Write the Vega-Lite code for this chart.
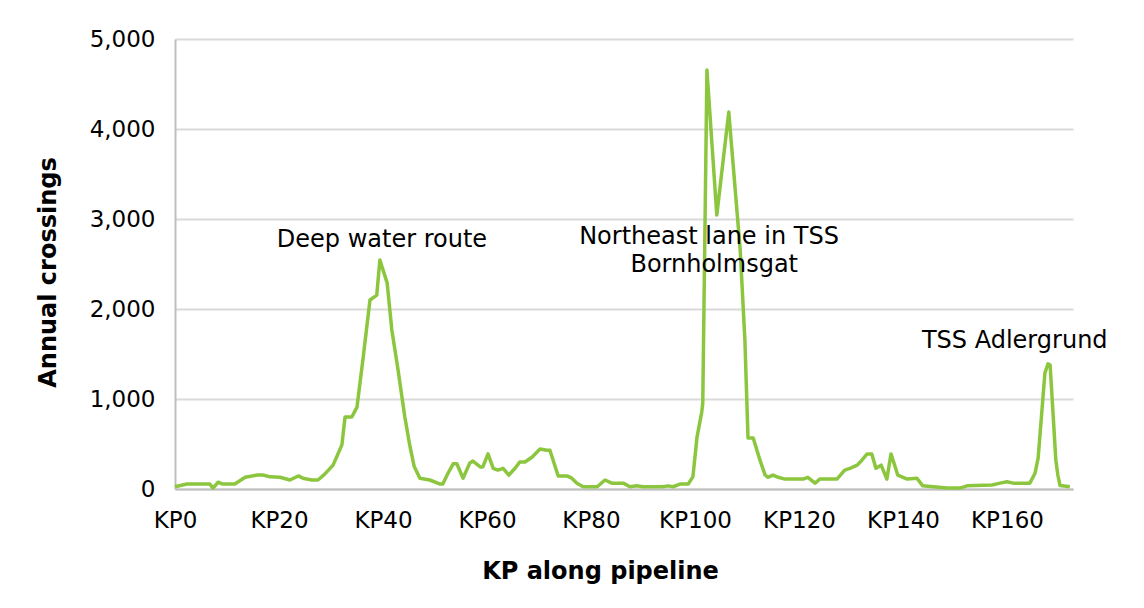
{
  "$schema": "https://vega.github.io/schema/vega-lite/v6.json",
  "autosize": "none",
  "width": 898,
  "height": 450,
  "padding": {"left": 175, "top": 39, "right": 71, "bottom": 119},
  "background": "white",
  "config": {
    "view": {"stroke": null},
    "font": "DejaVu Sans"
  },
  "layer": [
    {
      "data": {"values": [
        {"kp": 0, "crossings": 25}, {"kp": 2.3, "crossings": 55}, {"kp": 6.7, "crossings": 55},
        {"kp": 7.3, "crossings": 10}, {"kp": 8.3, "crossings": 75}, {"kp": 9.2, "crossings": 55},
        {"kp": 11.5, "crossings": 55}, {"kp": 13.5, "crossings": 130}, {"kp": 15.8, "crossings": 155},
        {"kp": 16.9, "crossings": 155}, {"kp": 18.3, "crossings": 135}, {"kp": 20.2, "crossings": 130},
        {"kp": 22.1, "crossings": 100}, {"kp": 23.7, "crossings": 145}, {"kp": 24.6, "crossings": 120},
        {"kp": 26.3, "crossings": 100}, {"kp": 27.5, "crossings": 100}, {"kp": 28.8, "crossings": 165},
        {"kp": 30.4, "crossings": 265}, {"kp": 32.1, "crossings": 490}, {"kp": 32.7, "crossings": 800},
        {"kp": 34.0, "crossings": 800}, {"kp": 35.0, "crossings": 910}, {"kp": 36.2, "crossings": 1467},
        {"kp": 37.5, "crossings": 2100}, {"kp": 38.8, "crossings": 2155}, {"kp": 39.4, "crossings": 2544},
        {"kp": 40.8, "crossings": 2290}, {"kp": 41.7, "crossings": 1767}, {"kp": 42.9, "crossings": 1322},
        {"kp": 44.2, "crossings": 800}, {"kp": 45.2, "crossings": 470}, {"kp": 46.0, "crossings": 250},
        {"kp": 47.1, "crossings": 120}, {"kp": 49.0, "crossings": 100}, {"kp": 51.0, "crossings": 55},
        {"kp": 51.5, "crossings": 55}, {"kp": 52.5, "crossings": 175}, {"kp": 53.5, "crossings": 280},
        {"kp": 54.2, "crossings": 280}, {"kp": 55.4, "crossings": 120}, {"kp": 56.7, "crossings": 290},
        {"kp": 57.3, "crossings": 310}, {"kp": 58.7, "crossings": 245}, {"kp": 59.2, "crossings": 245},
        {"kp": 60.2, "crossings": 390}, {"kp": 61.2, "crossings": 230}, {"kp": 62.1, "crossings": 210},
        {"kp": 63.1, "crossings": 230}, {"kp": 64.2, "crossings": 155}, {"kp": 65.4, "crossings": 230},
        {"kp": 66.3, "crossings": 300}, {"kp": 67.3, "crossings": 300}, {"kp": 68.7, "crossings": 355},
        {"kp": 70.2, "crossings": 445}, {"kp": 71.5, "crossings": 430}, {"kp": 72.1, "crossings": 430},
        {"kp": 73.7, "crossings": 145}, {"kp": 75.4, "crossings": 145}, {"kp": 76.3, "crossings": 120},
        {"kp": 77.3, "crossings": 65}, {"kp": 78.5, "crossings": 25}, {"kp": 81.2, "crossings": 25},
        {"kp": 82.7, "crossings": 100}, {"kp": 84.0, "crossings": 65}, {"kp": 86.2, "crossings": 65},
        {"kp": 87.5, "crossings": 25}, {"kp": 88.8, "crossings": 35}, {"kp": 90.0, "crossings": 25},
        {"kp": 93.8, "crossings": 25}, {"kp": 94.8, "crossings": 35}, {"kp": 95.8, "crossings": 25},
        {"kp": 97.1, "crossings": 55}, {"kp": 98.7, "crossings": 55}, {"kp": 99.6, "crossings": 135},
        {"kp": 100.4, "crossings": 580}, {"kp": 101.3, "crossings": 855}, {"kp": 101.5, "crossings": 955},
        {"kp": 102.3, "crossings": 4655}, {"kp": 104.2, "crossings": 3044}, {"kp": 106.5, "crossings": 4189},
        {"kp": 108.7, "crossings": 2655}, {"kp": 109.6, "crossings": 1655}, {"kp": 110.2, "crossings": 566},
        {"kp": 111.2, "crossings": 566}, {"kp": 112.5, "crossings": 320}, {"kp": 113.5, "crossings": 155},
        {"kp": 114.0, "crossings": 130}, {"kp": 115.0, "crossings": 155}, {"kp": 116.0, "crossings": 130},
        {"kp": 117.3, "crossings": 110}, {"kp": 120.8, "crossings": 110}, {"kp": 121.7, "crossings": 130},
        {"kp": 123.1, "crossings": 65}, {"kp": 124.0, "crossings": 110}, {"kp": 127.3, "crossings": 110},
        {"kp": 128.8, "crossings": 210}, {"kp": 129.8, "crossings": 230}, {"kp": 131.2, "crossings": 265},
        {"kp": 132.1, "crossings": 320}, {"kp": 133.1, "crossings": 390}, {"kp": 134.0, "crossings": 390},
        {"kp": 134.8, "crossings": 230}, {"kp": 135.8, "crossings": 265}, {"kp": 136.9, "crossings": 110},
        {"kp": 137.7, "crossings": 390}, {"kp": 139.0, "crossings": 155}, {"kp": 140.8, "crossings": 110},
        {"kp": 142.7, "crossings": 120}, {"kp": 143.8, "crossings": 35}, {"kp": 145.8, "crossings": 25},
        {"kp": 148.5, "crossings": 10}, {"kp": 151.0, "crossings": 10}, {"kp": 152.3, "crossings": 35},
        {"kp": 157.1, "crossings": 45}, {"kp": 158.7, "crossings": 65}, {"kp": 160.0, "crossings": 80},
        {"kp": 161.2, "crossings": 65}, {"kp": 164.4, "crossings": 65}, {"kp": 165.4, "crossings": 175},
        {"kp": 166.0, "crossings": 345}, {"kp": 167.3, "crossings": 1290}, {"kp": 167.9, "crossings": 1390},
        {"kp": 168.3, "crossings": 1378}, {"kp": 169.4, "crossings": 320}, {"kp": 169.8, "crossings": 150},
        {"kp": 170.2, "crossings": 40}, {"kp": 172.1, "crossings": 25}
      ]},
      "mark": {"type": "line", "color": "#8cc63f", "strokeWidth": 3.5, "strokeJoin": "round"},
      "encoding": {
        "x": {
          "field": "kp", "type": "quantitative",
          "scale": {"domain": [0, 172.7], "nice": false, "zero": false},
          "axis": {
            "title": "KP along pipeline",
            "values": [0, 20, 40, 60, 80, 100, 120, 140, 160],
            "labelExpr": "'KP' + datum.value",
            "grid": false, "ticks": false, "tickSize": 0,
            "labelFontSize": 23, "labelColor": "#000000", "labelPadding": 20,
            "labelFlush": false, "labelOverlap": false,
            "domainColor": "#bfbfbf", "domainWidth": 2,
            "titleFontSize": 24, "titleFontWeight": "bold", "titleColor": "#000000",
            "titleX": 425, "titleY": 89, "titleBaseline": "alphabetic", "titleAnchor": "middle"
          }
        },
        "y": {
          "field": "crossings", "type": "quantitative",
          "scale": {"domain": [0, 5000], "nice": false},
          "axis": {
            "title": "Annual crossings",
            "values": [0, 1000, 2000, 3000, 4000, 5000],
            "labelExpr": "format(datum.value, ',d')",
            "grid": true, "gridColor": "#d9d9d9", "gridWidth": 2,
            "ticks": false, "tickSize": 0,
            "labelFontSize": 23, "labelColor": "#000000", "labelPadding": 20,
            "domainColor": "#bfbfbf", "domainWidth": 2,
            "titleFontSize": 24, "titleFontWeight": "bold", "titleColor": "#000000",
            "titleX": -120, "titleY": 233, "titleBaseline": "alphabetic", "titleAngle": -90, "titleAnchor": "middle"
          }
        }
      }
    },
    {
      "data": {"values": [
        {"kp": 39.8, "crossings": 2689, "label": "Deep water route"},
        {"kp": 102.7, "crossings": 2722, "label": "Northeast lane in TSS"},
        {"kp": 103.7, "crossings": 2411, "label": "Bornholmsgat"},
        {"kp": 161.5, "crossings": 1567, "label": "TSS Adlergrund"}
      ]},
      "mark": {"type": "text", "fontSize": 24, "color": "#000000", "align": "center", "baseline": "alphabetic"},
      "encoding": {
        "x": {"field": "kp", "type": "quantitative"},
        "y": {"field": "crossings", "type": "quantitative"},
        "text": {"field": "label"}
      }
    }
  ]
}
